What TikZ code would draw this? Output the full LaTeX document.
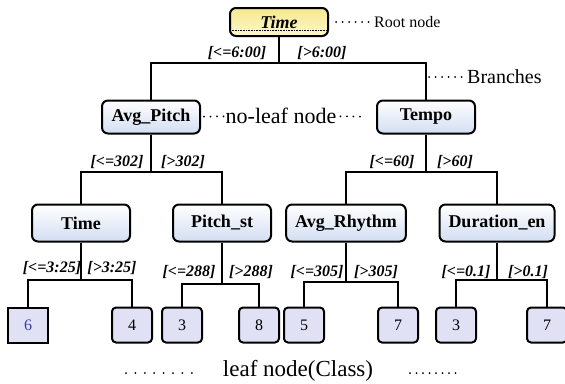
\documentclass[tikz,border=0pt]{standalone}
\usepackage{fontspec}
\setmainfont{Liberation Serif}[
  BoldFont={Liberation Serif Bold},
  ItalicFont={Liberation Serif Italic},
  BoldItalicFont={Liberation Serif Bold Italic}]
\definecolor{nodeblue}{RGB}{210,222,242}
\definecolor{leafblue}{RGB}{224,225,244}
\definecolor{rootlight}{RGB}{252,247,205}
\definecolor{rootdark}{RGB}{243,224,105}
\definecolor{classblue}{RGB}{60,60,170}
\begin{document}
\begin{tikzpicture}[x=1pt, y=-1pt,
    inner/.style={draw, line width=2pt, rounded corners=6pt,
      top color=white, bottom color=nodeblue,
      minimum width=98pt, minimum height=37pt, inner xsep=9pt,
      font=\fontsize{18}{20}\selectfont\bfseries},
    rootbox/.style={inner, minimum height=28pt,
      top color=rootdark!75, middle color=rootdark, bottom color=rootlight,
      font=\fontsize{18}{20}\selectfont\bfseries\itshape,
      path picture={\draw[densely dotted, line width=0.6pt]
        ([yshift=6pt]path picture bounding box.south west) --
        ([yshift=6pt]path picture bounding box.south east);}},
    leaf/.style={draw, line width=2pt, rounded corners=4pt, fill=leafblue,
      minimum width=40pt, minimum height=35pt,
      font=\fontsize{16}{18}\selectfont},
    branch/.style={line width=1.6pt},
    cond/.style={inner sep=0pt, font=\fontsize{16}{18}\selectfont\bfseries\itshape},
    note/.style={inner sep=1pt},
    leader/.style={line width=2pt, line cap=round, dash pattern=on 0pt off 6.5pt}]
  \useasboundingbox (0,0) rectangle (565,383);
  %
  % root and first split
  \node[rootbox] (root) at (279,22) {Time};
  \node[inner, minimum height=33pt] (pitch) at (151,117) {Avg\_Pitch};
  \node[inner, minimum height=33pt] (tempo) at (426,117) {Tempo};
  \coordinate (rootbar) at (root.south |- 0,63);
  \draw[branch] (root) -- (rootbar) -| (pitch);
  \draw[branch] (rootbar) -| (tempo);
  \node[cond] (c0a) at (237,53) {[<=6:00]};
  \node[cond] (c0b) at (322,53) {[>6:00]};
  %
  % second level
  \node[inner] (time) at (81,223) {Time};
  \node[inner] (pitchst) at (222,223) {Pitch\_st};
  \node[inner] (rhythm) at (346,223) {Avg\_Rhythm};
  \node[inner] (duration) at (497,223) {Duration\_en};
  \coordinate (pitchbar) at (pitch.south |- 0,172);
  \draw[branch] (pitch) -- (pitchbar) -| (time);
  \draw[branch] (pitchbar) -| (pitchst);
  \coordinate (tempobar) at (tempo.south |- 0,172);
  \draw[branch] (tempo) -- (tempobar) -| (rhythm);
  \draw[branch] (tempobar) -| (duration);
  \node[cond] (c1a) at (117,162) {[<=302]};
  \node[cond] (c1b) at (183,162) {[>302]};
  \node[cond] (c2a) at (392,162) {[<=60]};
  \node[cond] (c2b) at (455,162) {[>60]};
  %
  % leaves
  \node[leaf, rounded corners=0pt, text=classblue] (l1) at (28,325) {6};
  \node[leaf] (l2) at (132,325) {4};
  \node[leaf] (l3) at (182,325) {3};
  \node[leaf] (l4) at (259,325) {8};
  \node[leaf] (l5) at (304,325) {5};
  \node[leaf] (l6) at (398,325) {7};
  \node[leaf] (l7) at (456,325) {3};
  \node[leaf] (l8) at (547,325) {7};
  \coordinate (timebar) at (time.south |- 0,280);
  \draw[branch] (time) -- (timebar) -| (l1);
  \draw[branch] (timebar) -| (l2);
  \coordinate (pitchstbar) at (pitchst.south |- 0,284);
  \draw[branch] (pitchst) -- (pitchstbar) -| (l3);
  \draw[branch] (pitchstbar) -| (l4);
  \coordinate (rhythmbar) at (rhythm.south |- 0,282);
  \draw[branch] (rhythm) -- (rhythmbar) -| (l5);
  \draw[branch] (rhythmbar) -| (l6);
  \coordinate (durationbar) at (duration.south |- 0,280);
  \draw[branch] (duration) -- (durationbar) -| (l7);
  \draw[branch] (durationbar) -| (l8);
  \node[cond] (c3a) at (52,268) {[<=3:25]};
  \node[cond] (c3b) at (112,268) {[>3:25]};
  \node[cond] (c4a) at (189,272) {[<=288]};
  \node[cond] (c4b) at (251,272) {[>288]};
  \node[cond] (c5a) at (317,272) {[<=305]};
  \node[cond] (c5b) at (376,272) {[>305]};
  \node[cond] (c6a) at (466,272) {[<=0.1]};
  \node[cond] (c6b) at (528,272) {[>0.1]};
  %
  % notes
  \node[note, anchor=west, font=\fontsize{16}{18}\selectfont] (rootnote) at (373,22) {Root node};
  \draw[leader, shorten <=7pt, shorten >=2pt] (root) -- (rootnote);
  \coordinate (branchpt) at (tempo.north |- 0,77);
  \node[note, anchor=west, font=\fontsize{20}{22}\selectfont] (branchnote) at (466,77) {Branches};
  \draw[leader, shorten <=3pt, shorten >=2pt] (branchpt) -- (branchnote);
  \node[note, font=\fontsize{22}{24}\selectfont] (innernote) at (281,116) {no-leaf node};
  \draw[leader, shorten <=3pt, shorten >=1pt] (pitch) -- (innernote);
  \draw[leader, shorten <=3pt, shorten >=14pt] (innernote) -- (tempo);
  \node[note, font=\fontsize{23}{25}\selectfont] (leafnote) at (298,371) {leaf node(Class)};
  \coordinate (dotsA) at (126,373);
  \coordinate (dotsB) at (192,373);
  \coordinate (dotsC) at (410,373);
  \coordinate (dotsD) at (456,373);
  \draw[leader, dash pattern=on 0pt off 9.4pt] (dotsA) -- (dotsB);
  \draw[leader, dash pattern=on 0pt off 6.5pt] (dotsC) -- (dotsD);
\end{tikzpicture}
\end{document}
